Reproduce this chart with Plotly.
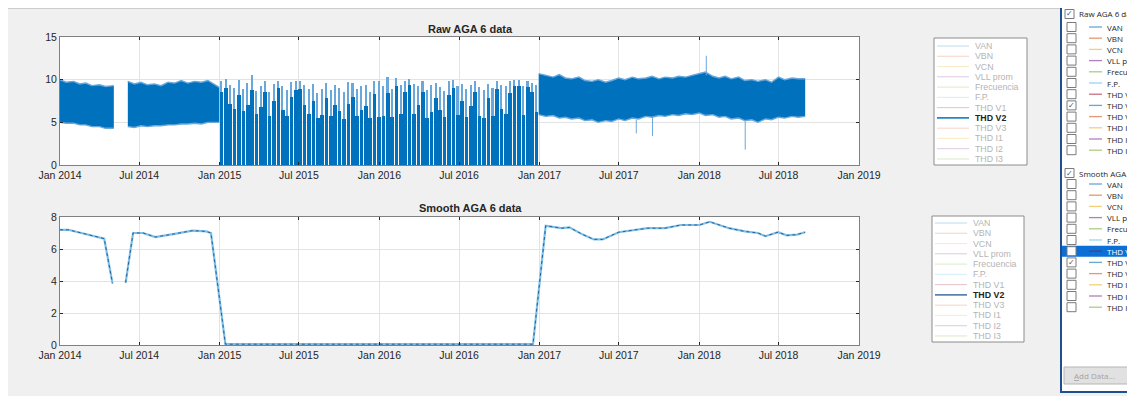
import pandas as pd
import plotly.graph_objects as go

W, H = 1135, 396
OFF = 8  # the page body margin shifts the figure by 8 px

# ---------------- data ----------------
# raw THD V2: dense band segments (upper / lower envelope of the signal)
band1_dates = ["2014-01-01", "2014-01-15", "2014-02-01", "2014-02-15", "2014-03-01",
               "2014-03-15", "2014-04-01", "2014-04-15", "2014-05-04"]
band1_upper = [10.0, 9.7, 9.8, 9.5, 9.6, 9.3, 9.4, 9.2, 9.3]
band1_lower = [5.0, 4.9, 4.9, 4.7, 4.7, 4.5, 4.5, 4.3, 4.3]

band2_dates = ["2014-06-05", "2014-06-20", "2014-07-05", "2014-07-20", "2014-08-05",
               "2014-08-20", "2014-09-05", "2014-09-20", "2014-10-05", "2014-10-20",
               "2014-11-05", "2014-11-20", "2014-12-05", "2014-12-20", "2014-12-31"]
band2_upper = [9.8, 9.5, 9.7, 9.4, 9.5, 9.3, 9.7, 9.6, 9.9, 9.6, 9.8, 9.7, 9.9, 9.4, 9.1]
band2_lower = [4.5, 4.4, 4.6, 4.5, 4.6, 4.6, 4.7, 4.7, 4.8, 4.8, 4.9, 4.8, 5.0, 5.0, 5.0]

band3_dates = ["2016-12-30", "2017-01-15", "2017-02-01", "2017-02-15", "2017-03-01",
               "2017-03-15", "2017-04-01", "2017-04-15", "2017-05-01", "2017-05-15",
               "2017-06-01", "2017-06-15", "2017-07-01", "2017-07-15", "2017-08-01",
               "2017-08-15", "2017-09-01", "2017-09-15", "2017-10-01", "2017-10-15",
               "2017-11-01", "2017-11-15", "2017-12-01", "2017-12-15", "2018-01-01",
               "2018-01-15", "2018-02-01", "2018-02-15", "2018-03-01", "2018-03-15",
               "2018-04-01", "2018-04-15", "2018-05-01", "2018-05-15", "2018-06-01",
               "2018-06-15", "2018-07-01", "2018-07-15", "2018-08-01", "2018-08-15",
               "2018-08-31"]
band3_upper = [10.7, 10.5, 10.3, 10.6, 10.2, 10.1, 10.3, 9.9, 9.8, 10.0,
               9.7, 9.9, 10.2, 10.0, 10.3, 10.1, 10.2, 10.4, 10.1, 10.3,
               10.2, 10.4, 10.3, 10.5, 10.7, 10.9, 10.4, 10.2, 10.4, 10.1,
               10.3, 9.9, 10.0, 9.8, 10.0, 9.7, 10.3, 10.0, 10.2, 10.1, 10.1]
band3_lower = [5.9, 5.7, 5.8, 5.5, 5.6, 5.4, 5.5, 5.2, 5.3, 5.0,
               5.2, 5.1, 5.4, 5.2, 5.5, 5.4, 5.7, 5.6, 5.8, 5.7,
               5.9, 5.8, 6.0, 5.9, 6.1, 5.8, 5.9, 5.6, 5.7, 5.4,
               5.5, 5.2, 5.3, 5.0, 5.4, 5.3, 5.6, 5.5, 5.7, 5.6, 5.7]

# isolated outliers in 2017-2018
spike_dates = ["2017-08-10", "2017-09-16", "2018-01-17", "2018-04-16"]
spike_from = [5.3, 5.6, 10.5, 5.2]
spike_to = [3.7, 3.4, 12.8, 1.8]

# intermittent 2015-2016 part (signal dropping to 0 between readings)
gap_dates = pd.date_range("2015-01-05", periods=73, freq="10D")
gap_peak = [9.8, 10.1, 9.4, 9.0, 10.0, 8.9, 9.6, 10.5, 8.7, 9.3, 9.9, 8.6, 9.5, 9.9, 9.2,
            8.8, 9.7, 9.9, 9.8, 9.4, 8.9, 9.5, 8.4, 8.9, 9.6, 8.8, 9.4, 9.0, 8.5, 9.7,
            9.6, 8.9, 9.2, 9.4, 8.6, 9.8, 9.9,
            9.3, 10.3, 8.9, 10.2, 9.4, 9.8, 10.1, 9.5, 9.2, 9.9, 8.8, 9.4, 9.6, 9.1, 8.7,
            9.8, 10.0, 9.3, 9.5, 8.9, 9.4, 9.9, 9.1, 8.8, 9.5, 9.0, 9.9, 9.4, 9.2, 9.8,
            10.0, 10.0, 9.3, 9.9, 9.6, 9.4]
gap_base = [8.6, 9.0, 7.2, 6.6, 8.2, 6.3, 7.0, 8.8, 6.0, 6.8, 8.5, 5.8, 7.5, 9.0, 6.5,
            5.7, 8.0, 8.8, 8.9, 7.0, 6.0, 7.5, 5.5, 5.9, 7.8, 5.7, 7.0, 6.3, 5.4, 7.2,
            8.0, 5.7, 6.4, 6.9, 5.5, 8.3, 5.6,
            5.8, 8.4, 5.6, 9.2, 6.0, 8.5, 9.4, 6.0, 7.0, 8.5, 5.5, 6.2, 7.8, 6.5, 5.6,
            8.2, 9.0, 5.9, 7.5, 5.6, 6.9, 8.5, 5.8, 5.5, 7.9, 5.7, 8.9, 6.6, 6.0, 8.4,
            9.2, 9.3, 5.9, 9.1, 8.5, 6.2]

# smoothed THD V2
smooth_dates = ["2014-01-01", "2014-01-20", "2014-04-12", "2014-05-01", None,
                "2014-05-31", "2014-06-17", "2014-07-10", "2014-08-07", "2014-09-20",
                "2014-10-31", "2014-12-01", "2014-12-12", "2015-01-14", "2015-07-01",
                "2016-01-01", "2016-07-01", "2016-12-17", "2017-01-15", "2017-02-20",
                "2017-03-10", "2017-04-10", "2017-05-05", "2017-05-25", "2017-07-01",
                "2017-08-15", "2017-09-05", "2017-10-15", "2017-11-20", "2018-01-01",
                "2018-01-25", "2018-03-10", "2018-04-15", "2018-05-15", "2018-06-01",
                "2018-06-30", "2018-07-20", "2018-08-12", "2018-08-31"]
smooth_vals = [7.2, 7.2, 6.65, 3.85, None,
               3.9, 7.0, 7.0, 6.75, 6.95,
               7.15, 7.1, 7.0, 0.05, 0.05,
               0.05, 0.05, 0.05, 7.45, 7.3,
               7.35, 6.9, 6.6, 6.6, 7.05,
               7.2, 7.3, 7.3, 7.5, 7.5,
               7.7, 7.3, 7.1, 7.0, 6.8,
               7.05, 6.85, 6.9, 7.05]

series_names = ["VAN", "VBN", "VCN", "VLL prom", "Frecuencia", "F.P.",
                "THD V1", "THD V2", "THD V3", "THD I1", "THD I2", "THD I3"]
matlab_colors = ["#0072BD", "#D95319", "#EDB120", "#7E2F8E", "#77AC30", "#4DBEEE",
                 "#A2142F", "#0072BD", "#D95319", "#EDB120", "#7E2F8E", "#77AC30"]
shown = "THD V2"

BLUE = "#0072BD"
LIGHT = "#6aa8dc"
AXC = "#262626"
FONT = "Liberation Sans, Arial, sans-serif"
UIFONT = "Open Sans, Noto Sans, sans-serif"
DAY = 86400000


def px(x):
    return (x - OFF) / W


def py(y):
    return 1 - (y - OFF) / H


fig = go.Figure()


def add_band(dates, lo, hi):
    fig.add_trace(go.Scatter(x=dates, y=lo, mode="lines", line=dict(width=1.4, color=LIGHT),
                             showlegend=False, hoverinfo="skip", xaxis="x", yaxis="y"))
    fig.add_trace(go.Scatter(x=dates, y=hi, mode="lines", line=dict(width=1.4, color=LIGHT),
                             fill="tonexty", fillcolor=BLUE, showlegend=False,
                             hoverinfo="skip", xaxis="x", yaxis="y"))


# raw subplot
fig.add_trace(go.Bar(x=gap_dates, y=gap_peak, width=3.5 * DAY, marker=dict(color=LIGHT, line=dict(width=0)),
                     showlegend=False, xaxis="x", yaxis="y"))
fig.add_trace(go.Bar(x=gap_dates, y=gap_base, width=8.4 * DAY, marker=dict(color=BLUE, line=dict(width=0)),
                     showlegend=False, xaxis="x", yaxis="y"))
add_band(band1_dates, band1_lower, band1_upper)
add_band(band2_dates, band2_lower, band2_upper)
add_band(band3_dates, band3_lower, band3_upper)

sx, sy = [], []
for d, a, b in zip(spike_dates, spike_from, spike_to):
    sx += [d, d, None]
    sy += [a, b, None]
fig.add_trace(go.Scatter(x=sx, y=sy, mode="lines", line=dict(width=1, color=LIGHT),
                         showlegend=False, xaxis="x", yaxis="y"))

# smooth subplot
fig.add_trace(go.Scatter(x=smooth_dates, y=smooth_vals, mode="lines", connectgaps=False,
                         line=dict(width=2.2, color="#7cc0ea"), showlegend=False,
                         xaxis="x2", yaxis="y2"))
fig.add_trace(go.Scatter(x=smooth_dates, y=smooth_vals, mode="lines", connectgaps=False,
                         line=dict(width=1, color="#2a5f93", dash="3px,3px"), showlegend=False,
                         xaxis="x2", yaxis="y2"))

xcommon = dict(type="date", range=["2014-01-01", "2019-01-01"], tick0="2014-01-01",
               dtick="M6", tickformat="%b %Y", ticks="inside", ticklen=3, tickcolor=AXC,
               showline=True, linecolor="#808080", linewidth=1, mirror="ticks",
               showgrid=True, gridcolor="#e3e3e3", gridwidth=1, zeroline=False,
               automargin=False, tickfont=dict(family=FONT, size=10.5, color=AXC))
ycommon = dict(ticks="inside", ticklen=3, tickcolor=AXC, showline=True, linecolor="#808080",
               linewidth=1, mirror="ticks", showgrid=True, gridcolor="#e3e3e3",
               zeroline=False, automargin=False, tickfont=dict(family=FONT, size=10.5, color=AXC))

fig.update_layout(
    width=W, height=H, margin=dict(l=0, r=0, t=0, b=0, pad=0, autoexpand=False),
    paper_bgcolor="#f0f0f0", plot_bgcolor="white",
    barmode="overlay", bargap=0, showlegend=False,
    xaxis=dict(domain=[px(60), px(859)], anchor="y", **xcommon),
    yaxis=dict(domain=[py(165), py(37)], anchor="x", range=[0, 15], dtick=5, **ycommon),
    xaxis2=dict(domain=[px(60), px(859)], anchor="y2", **xcommon),
    yaxis2=dict(domain=[py(345), py(217)], anchor="x2", range=[0, 8], dtick=2, **ycommon),
)

shapes = []
ann = []


def label(x, y, text, size, color, family=FONT, xanchor="left"):
    ann.append(dict(x=px(x), y=py(y), xref="paper", yref="paper", text=text, showarrow=False,
                    xanchor=xanchor, yanchor="middle", font=dict(family=family, size=size, color=color)))


# separator line under the toolbar
shapes.append(dict(type="line", xref="paper", yref="paper", x0=px(OFF), x1=px(1060),
                   y0=py(OFF), y1=py(OFF), line=dict(color="#a8a8a8", width=1)))

# titles
label(470, 29, "<b>Raw AGA 6 data</b>", 11, AXC, xanchor="center")
label(470, 208, "<b>Smooth AGA 6 data</b>", 11, AXC, xanchor="center")


# in-figure legends
def legend_box(x0, x1, y0, y1, first_row, line_dark):
    shapes.append(dict(type="rect", xref="paper", yref="paper", x0=px(x0), x1=px(x1),
                       y0=py(y1), y1=py(y0), fillcolor="white", line=dict(color="#8c8c8c", width=1)))
    for i, (name, col) in enumerate(zip(series_names, matlab_colors)):
        yy = first_row + i * 10.27
        on = name == shown
        shapes.append(dict(type="line", xref="paper", yref="paper", x0=px(x0 + 3), x1=px(x0 + 35),
                           y0=py(yy), y1=py(yy),
                           line=dict(color=line_dark if on else col, width=1.5 if on else 1),
                           opacity=1 if on else 0.25))
        label(x0 + 39, yy, f"<b>{name}</b>" if on else name, 8.8, "#222222" if on else "#b4b4b4")


legend_box(934, 1027, 38, 165, 46, BLUE)
legend_box(932, 1024, 216, 342, 223, "#3d6e9e")

# side panel (plot browser)
shapes.append(dict(type="rect", xref="paper", yref="paper", x0=px(1061), x1=px(1150),
                   y0=py(392), y1=py(6), fillcolor="white", line=dict(color="#1f4f8f", width=2)))


def checkbox(x, y, checked):
    shapes.append(dict(type="rect", xref="paper", yref="paper", x0=px(x), x1=px(x + 9),
                       y0=py(y + 4.5), y1=py(y - 4.5), fillcolor="white",
                       line=dict(color="#7a7a7a", width=1)))
    if checked:
        label(x + 4.5, y, "✓", 8, "#555555", family="DejaVu Sans", xanchor="center")


def panel_group(title, y_head, y_first, highlight=None):
    checkbox(1065, y_head, True)
    label(1077, y_head, title, 8, "#1e1e1e", family=UIFONT)
    for i, (name, col) in enumerate(zip(series_names, matlab_colors)):
        yy = y_first + i * 11.2
        hl = name == highlight
        if hl:
            shapes.append(dict(type="rect", xref="paper", yref="paper", x0=px(1062), x1=px(1150),
                               y0=py(yy + 5.5), y1=py(yy - 5.5), fillcolor="#0a6fd6",
                               line=dict(width=0)))
        checkbox(1067, yy, name == shown)
        shapes.append(dict(type="line", xref="paper", yref="paper", x0=px(1089), x1=px(1102),
                           y0=py(yy), y1=py(yy), line=dict(color=col, width=1.3), opacity=0.6))
        label(1105, yy, name, 8, "white" if hl else "#1e1e1e", family=UIFONT)


panel_group("Raw AGA 6 data", 14, 27)
panel_group("Smooth AGA 6 data", 173, 184, highlight="THD V1")

shapes.append(dict(type="rect", xref="paper", yref="paper", x0=px(1064), x1=px(1150),
                   y0=py(384), y1=py(367), fillcolor="#e1e1e1", line=dict(color="#b5b5b5", width=1)))
label(1072, 375.5, "<u>A</u>dd Data...", 8, "#a3a3a3", family=UIFONT)

fig.update_layout(shapes=shapes, annotations=ann)
fig.write_html("out.html")
